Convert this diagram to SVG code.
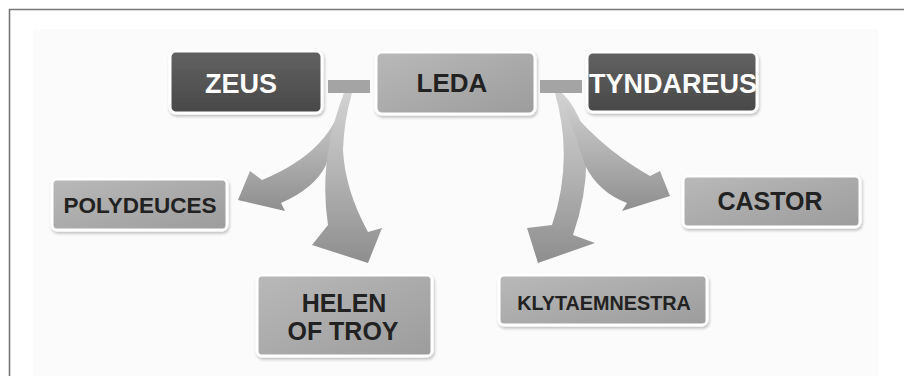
<svg xmlns="http://www.w3.org/2000/svg" width="904" height="376" viewBox="0 0 904 376">
<defs>
<linearGradient id="gDark" x1="0" y1="0" x2="0" y2="1">
<stop offset="0" stop-color="#626262"/><stop offset="1" stop-color="#484848"/>
</linearGradient>
<linearGradient id="gMid" x1="0" y1="0" x2="1" y2="1">
<stop offset="0" stop-color="#b9b9b9"/><stop offset="1" stop-color="#9c9c9c"/>
</linearGradient>
<linearGradient id="gArrow" x1="0" y1="0" x2="0" y2="1">
<stop offset="0" stop-color="#d2d2d2"/><stop offset="0.5" stop-color="#b2b2b2"/><stop offset="1" stop-color="#8e8e8e"/>
</linearGradient>
<filter id="sh" x="-10%" y="-20%" width="120%" height="140%">
<feGaussianBlur in="SourceAlpha" stdDeviation="1.5"/>
<feOffset dx="1" dy="2" result="b"/>
<feComponentTransfer><feFuncA type="linear" slope="0.25"/></feComponentTransfer>
<feMerge><feMergeNode/><feMergeNode in="SourceGraphic"/></feMerge>
</filter>
</defs>
<style>
.dark{fill:url(#gDark);stroke:#ffffff;stroke-width:3;filter:url(#sh)}
.mid{fill:url(#gMid);stroke:#ffffff;stroke-width:3;filter:url(#sh)}
.arrow{fill:url(#gArrow)}
.bar{fill:#a4a4a4}
text{font-family:"Liberation Sans",Arial,sans-serif;font-weight:bold;text-anchor:middle}
.wt{fill:#ffffff;font-size:27px}
.bt{fill:#222222}
</style>
<rect x="0" y="0" width="904" height="376" fill="#ffffff"/>
<path d="M9.5 376 V9.5 H904" fill="none" stroke="#777777" stroke-width="1.6"/>
<rect x="33" y="29" width="845" height="348" fill="#fbfbfb"/>

<g id="connectors">
<rect class="bar" x="328" y="80" width="42" height="13"/>
<rect class="bar" x="540" y="80" width="42" height="13"/>
<path class="arrow" d="M344 93 Q335 150 262 180 L250 171 L238 200 L285 211 L281 203 Q315 188 326 165 L348 93 Z"/>
<path class="arrow" d="M344 93 Q318 160 328 225 L312 245 L368 263 L382 228 L368 232 Q345 190 343 150 Q344 120 352 93 Z"/>
<path class="arrow" d="M555 93 Q574 160 552 225 L527 228 L538 263 L595 243 L573 235 Q592 180 584 130 Q575 105 562 93 Z"/>
<path class="arrow" d="M557 93 Q595 145 650 176 L660 171 L670 196 L622 211 L627 203 Q598 192 585 165 L565 105 Z"/>
</g>

<g id="zeus"><rect class="dark" x="170" y="51" width="152" height="62" rx="6"/><text class="wt" x="241" y="93">ZEUS</text></g>
<g id="leda"><rect class="mid" x="376" y="52" width="159" height="62" rx="6"/><text class="bt" x="452" y="92" font-size="26">LEDA</text></g>
<g id="tyndareus"><rect class="dark" x="587" y="52" width="170" height="60" rx="6"/><text class="wt" x="673" y="93" font-size="24.5">TYNDAREUS</text></g>
<g id="polydeuces"><rect class="mid" x="52" y="179" width="175" height="51" rx="5"/><text class="bt" x="140" y="213" font-size="22.5">POLYDEUCES</text></g>
<g id="helen"><rect class="mid" x="257" y="275" width="175" height="81" rx="5"/><text class="bt" x="344" y="312" font-size="25">HELEN</text><text class="bt" x="343" y="340" font-size="25">OF TROY</text></g>
<g id="castor"><rect class="mid" x="683" y="176" width="177" height="51" rx="5"/><text class="bt" x="770" y="210" font-size="25">CASTOR</text></g>
<g id="klytaemnestra"><rect class="mid" x="499" y="275" width="208" height="50" rx="5"/><text class="bt" x="604" y="310" font-size="19.8">KLYTAEMNESTRA</text></g>
</svg>
